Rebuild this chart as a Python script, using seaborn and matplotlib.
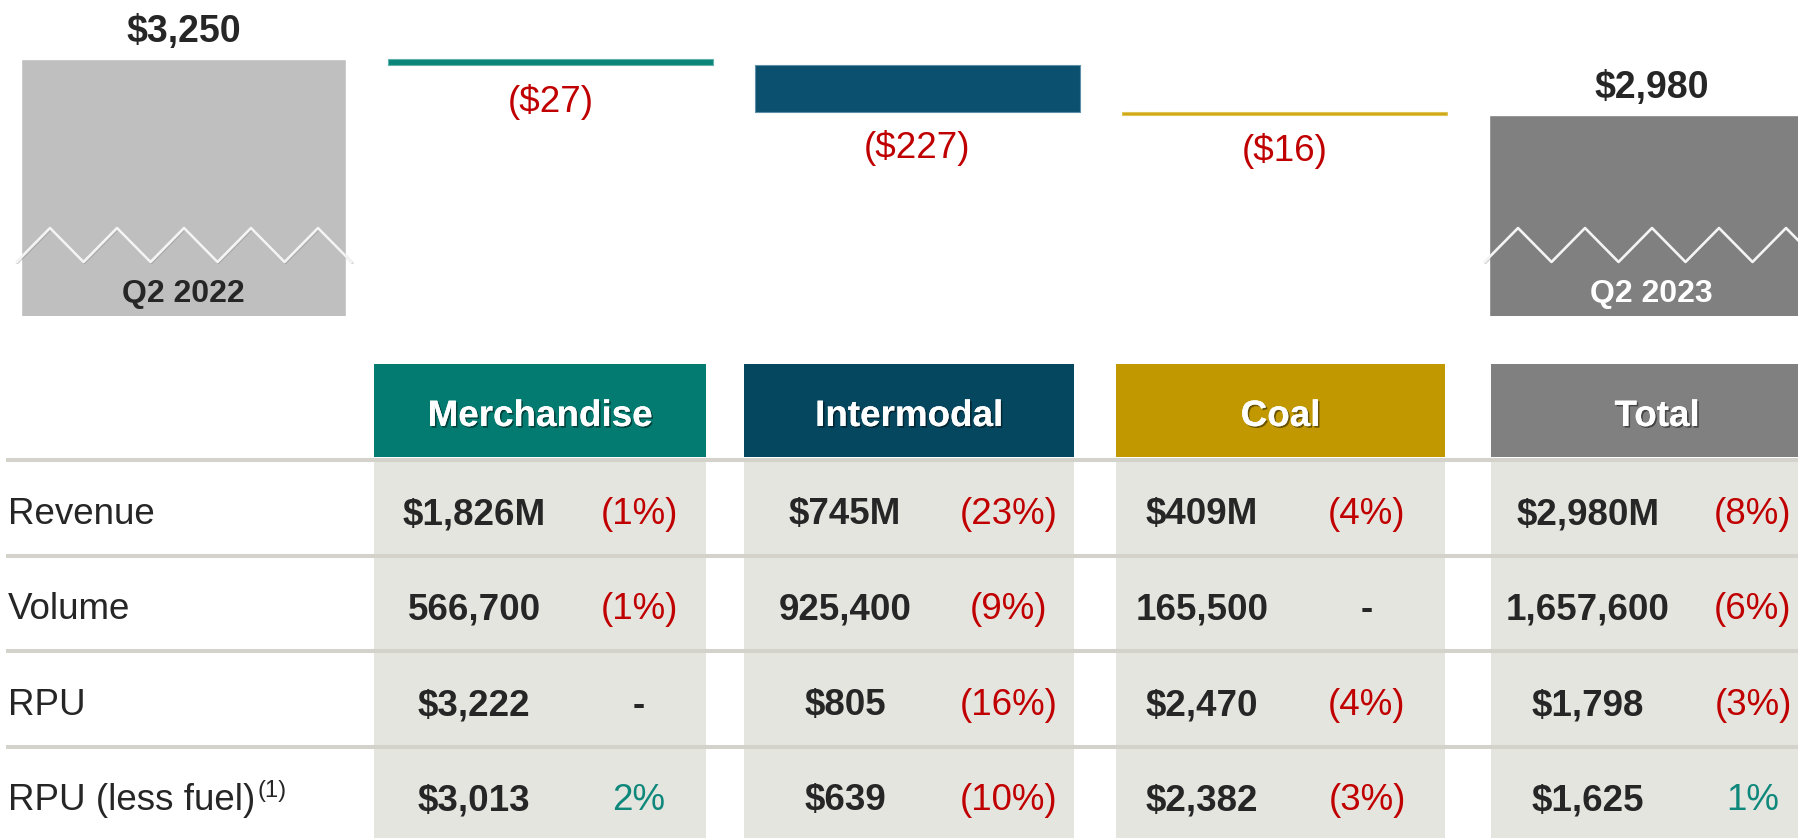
import numpy as np
import pandas as pd
import matplotlib
matplotlib.use("Agg")
import matplotlib.pyplot as plt
import matplotlib.patheffects as pe
from matplotlib.patches import Rectangle
import seaborn as sns

# ---------------- data ----------------
wf_categories = ["Q2 2022", "Merchandise", "Intermodal", "Coal", "Q2 2023"]
start_total = 3250
segment_deltas = [-27, -227, -16]
end_total = 2980
delta_labels = ["($27)", "($227)", "($16)"]
total_labels = ["$3,250", "$2,980"]

segments = ["Merchandise", "Intermodal", "Coal", "Total"]
row_labels = ["Revenue", "Volume", "RPU", "RPU (less fuel)"]
revenue = ["$1,826M", "$745M", "$409M", "$2,980M"]
revenue_chg = ["(1%)", "(23%)", "(4%)", "(8%)"]
volume = ["566,700", "925,400", "165,500", "1,657,600"]
volume_chg = ["(1%)", "(9%)", "-", "(6%)"]
rpu = ["$3,222", "$805", "$2,470", "$1,798"]
rpu_chg = ["-", "(16%)", "(4%)", "(3%)"]
rpu_less_fuel = ["$3,013", "$639", "$2,382", "$1,625"]
rpu_less_fuel_chg = ["2%", "(10%)", "(3%)", "1%"]

# ---------------- style ----------------
sns.set_theme(style="white")
plt.rcParams['font.family'] = ['Liberation Sans', 'DejaVu Sans']

DARK = "#262626"
RED = "#C00000"
GREEN = "#0F887C"
bar_colors = {"Q2 2022": "#BFBFBF", "Merchandise": "#0A8478", "Intermodal": "#0B506E",
              "Coal": "#D0A814", "Q2 2023": "#808080"}
bar_edges = {"Merchandise": "#5FB3AA", "Intermodal": "#5E8FA8", "Coal": "#E0C45A"}
header_colors = ["#037B70", "#05475F", "#C19800", "#808080"]
CELL_BG = "#E5E5E0"
SEP = "#D3D3CB"
FS = 26.5

W, H = 1799, 838
fig = plt.figure(figsize=(W / 100, H / 100), dpi=100)
fig.patch.set_facecolor("white")

# ---------------- table (pixel space axes) ----------------
tax = fig.add_axes([0, 0, 1, 1])
tax.set_xlim(0, W)
tax.set_ylim(H, 0)
tax.axis("off")

col_left = [374, 744, 1116, 1491]
col_right = [706, 1074, 1445, 1823]
val_x = [474, 845, 1202, 1588]
pct_x = [639, 1009, 1367, 1753]
header_top, header_bot = 364, 457
sep_y = [460, 556, 651, 747]
baselines = [524, 619, 715, 810]

for i, seg in enumerate(segments):
    tax.add_patch(Rectangle((col_left[i], header_top), col_right[i] - col_left[i],
                            header_bot - header_top, color=header_colors[i], lw=0, zorder=1))
    tax.add_patch(Rectangle((col_left[i], sep_y[0]), col_right[i] - col_left[i],
                            H - sep_y[0], color=CELL_BG, lw=0, zorder=1))
    tax.text((col_left[i] + col_right[i]) / 2, 426, seg, ha="center", va="baseline",
             fontsize=FS, fontweight="bold", color="white", zorder=4,
             path_effects=[pe.withSimplePatchShadow(offset=(1.2, -1.2), shadow_rgbFace="black", alpha=0.45),
                           pe.Normal()])

for y in sep_y:
    tax.plot([6, W], [y, y], color=SEP, lw=2.9, solid_capstyle="butt", zorder=3)

rows_vals = [revenue, volume, rpu, rpu_less_fuel]
rows_chg = [revenue_chg, volume_chg, rpu_chg, rpu_less_fuel_chg]

def chg_color(s):
    if s.startswith("("):
        return RED
    if s.strip() == "-":
        return DARK
    return GREEN

for r, label in enumerate(row_labels):
    t = tax.text(8, baselines[r], label, ha="left", va="baseline", fontsize=FS, color=DARK, zorder=4)
    for c in range(len(segments)):
        tax.text(val_x[c], baselines[r], rows_vals[r][c], ha="center", va="baseline",
                 fontsize=FS, fontweight="bold", color=DARK, zorder=4)
        chg = rows_chg[r][c]
        tax.text(pct_x[c], baselines[r], chg, ha="center", va="baseline",
                 fontsize=FS, color=chg_color(chg), zorder=4,
                 fontweight="bold" if chg.strip() == "-" else "normal")

# superscript footnote marker after last row label
fig.canvas.draw()
renderer = fig.canvas.get_renderer()
bb = t.get_window_extent(renderer=renderer)
x_end = tax.transData.inverted().transform((bb.x1, 0))[0]
tax.text(x_end + 2, baselines[-1] - 13, "(1)", ha="left", va="baseline", fontsize=17,
         color=DARK, zorder=4)

# ---------------- waterfall ----------------
px_bottom = 315.5
wax = fig.add_axes([0, 1 - px_bottom / H, 1, px_bottom / H])
wax.patch.set_alpha(0)

df_tot = pd.DataFrame({"cat": [wf_categories[0], wf_categories[-1]],
                       "value": [start_total, end_total]})
bar_w = 0.888
sns.barplot(data=df_tot, x="cat", y="value", hue="cat", order=wf_categories,
            hue_order=[wf_categories[0], wf_categories[-1]],
            palette={k: bar_colors[k] for k in df_tot["cat"]}, width=bar_w,
            saturation=1, legend=False, errorbar=None, ax=wax)

prev = np.concatenate([[start_total], start_total + np.cumsum(segment_deltas)[:-1]])
delta_pos = np.arange(1, 1 + len(segment_deltas))
wax.bar(delta_pos, segment_deltas, bottom=prev, width=bar_w,
        color=[bar_colors[c] for c in wf_categories[1:-1]],
        edgecolor=[bar_edges[c] for c in wf_categories[1:-1]], lw=0.8, zorder=3)

wax.set_xlim(-0.5, 4.402)
wax.set_ylim(2005, 3539)
wax.axis("off")

# total labels above bars
for pos, val, lab in [(0, start_total, total_labels[0]), (4, end_total, total_labels[1])]:
    wax.annotate(lab, (pos, val), xytext=(0, 12.5), textcoords="offset points",
                 ha="center", va="baseline", fontsize=FS + 0.5, fontweight="bold",
                 color=DARK, annotation_clip=False)

# delta labels below floating bars
for pos, b, d, lab in zip(delta_pos, prev, segment_deltas, delta_labels):
    wax.annotate(lab, (pos, b + d), xytext=(0, -33.5), textcoords="offset points",
                 ha="center", va="baseline", fontsize=FS, color=RED, annotation_clip=False)

# axis-break zigzags and period labels on the total bars
period = 67 / 367
trans = wax.get_xaxis_transform()
for pos, txt_color in [(0, DARK), (4, "white")]:
    left = pos - bar_w / 2 - 4 / 367
    xs = left + np.arange(11) * period / 2
    ys = np.where(np.arange(11) % 2 == 0, 0.1696, 0.2773)
    wax.plot(xs, ys, transform=trans, color="#F4F4F4", lw=1.9, zorder=5, clip_on=False,
             path_effects=[pe.SimpleLineShadow(offset=(0.6, -0.6), shadow_color="#7F7F7F", alpha=0.35),
                           pe.Normal()])
    wax.text(pos, 0.0428, wf_categories[pos], transform=trans, ha="center", va="baseline",
             fontsize=23, fontweight="bold", color=txt_color, zorder=6)

fig.savefig("out.png", dpi=100, facecolor="white")
